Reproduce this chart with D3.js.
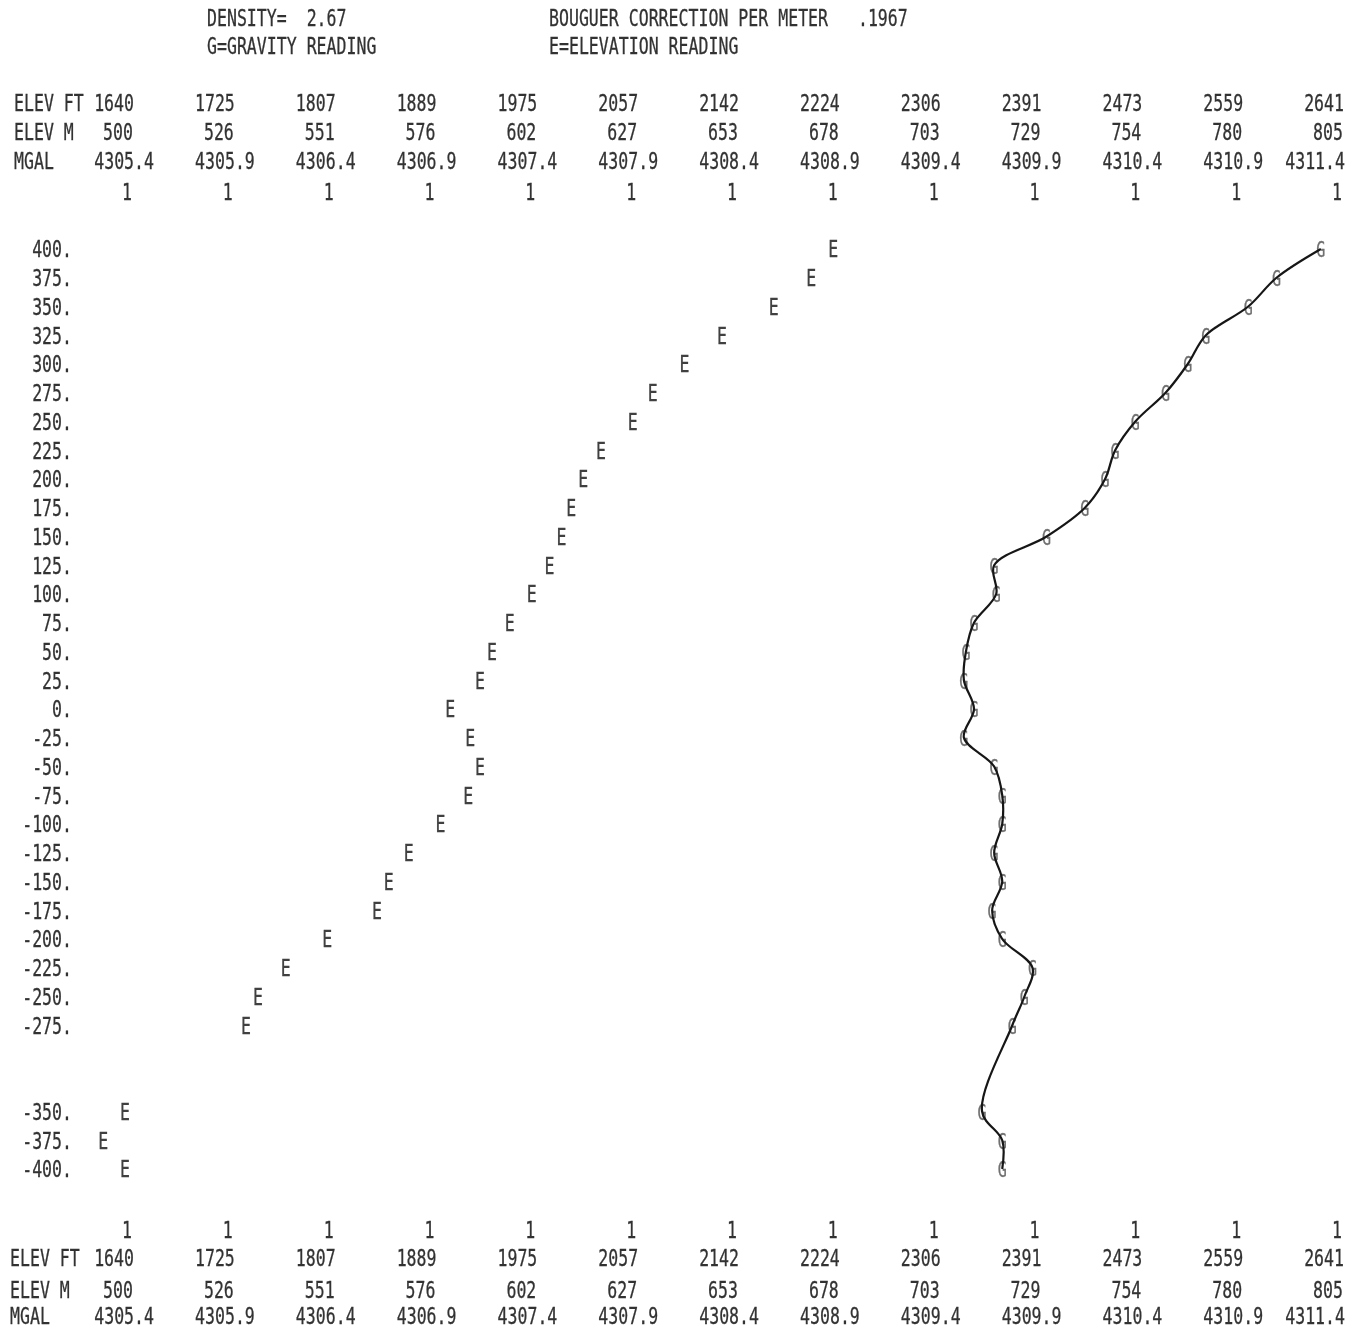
<!DOCTYPE html>
<html>
<head>
<meta charset="utf-8">
<script src="https://cdn.jsdelivr.net/npm/d3@7"></script>
<style>
  html, body { margin: 0; padding: 0; background: #fff; }
  svg { display: block; }
  svg text { white-space: pre; }
</style>
</head>
<body>
<svg id="chart" width="1364" height="1332"></svg>
<script>
// ---------------- DATA ----------------
const elevFt = [1640, 1725, 1807, 1889, 1975, 2057, 2142, 2224, 2306, 2391, 2473, 2559, 2641];
const elevM  = [500, 526, 551, 576, 602, 627, 653, 678, 703, 729, 754, 780, 805];
const mgal   = [4305.4, 4305.9, 4306.4, 4306.9, 4307.4, 4307.9, 4308.4, 4308.9, 4309.4, 4309.9, 4310.4, 4310.9, 4311.4];

// station distance rows (printed labels)
const rowLabels = [400, 375, 350, 325, 300, 275, 250, 225, 200, 175, 150, 125, 100, 75, 50, 25, 0,
  -25, -50, -75, -100, -125, -150, -175, -200, -225, -250, -275, -350, -375, -400];

// E = elevation reading (metres) at each station
const distE = rowLabels.slice();
const elevE = [678, 672.5, 663, 650, 640.5, 632.5, 627.5, 619.5, 615, 612, 609.5, 606.5, 602, 596.5, 592, 589,
  581.5, 586.5, 589, 586, 579, 571, 566, 563, 550.5, 540, 533, 530, 499.5, 494, 499.5];

// G = gravity reading (mgal) at each station
const distG = rowLabels.slice();
const gravG = [4311.32, 4311.10, 4310.96, 4310.75, 4310.66, 4310.55, 4310.40, 4310.30, 4310.25, 4310.15,
  4309.96, 4309.70, 4309.71, 4309.60, 4309.56, 4309.55, 4309.60, 4309.55, 4309.70, 4309.74, 4309.74,
  4309.70, 4309.74, 4309.69, 4309.74, 4309.89, 4309.85, 4309.79, 4309.64, 4309.74, 4309.74];

const headerLines = [
  { text: "DENSITY=  2.67", col: 0, row: 0 },
  { text: "G=GRAVITY READING", col: 0, row: 1 },
  { text: "BOUGUER CORRECTION PER METER   .1967", col: 1, row: 0 },
  { text: "E=ELEVATION READING", col: 1, row: 1 }
];
const axisNames = ["ELEV FT", "ELEV M", "MGAL"];

// ---------------- SCALES ----------------
const svg = d3.select("#chart");
const x = d3.scaleLinear().domain([4305.4, 4311.4]).range([127, 1337]);   // mgal
const xe = d3.scaleLinear().domain([500, 805]).range([127, 1337]);        // metres
const y = d3.scaleLinear().domain([400, -400]).range([249, 1169]);

const FS = 23;          // font size
const SX = 0.72;        // horizontal squeeze -> ~10px per character
const CAP = 8.3;        // half cap height, baseline offset
const ink = "#333333";

const defs = svg.append("defs");
defs.append("filter").attr("id", "soft")
  .append("feGaussianBlur").attr("stdDeviation", 0.45);

const g = svg.append("g").attr("filter", "url(#soft)");

function put(parent, text, px, py, anchor, opts = {}) {
  return parent.append("text")
    .attr("transform", `translate(${px},${py + CAP}) scale(${SX},1)`)
    .attr("text-anchor", anchor || "start")
    .attr("xml:space", "preserve")
    .attr("font-family", "'DejaVu Sans Mono', 'Liberation Mono', monospace")
    .attr("font-size", opts.size || FS)
    .attr("fill", opts.fill || ink)
    .attr("stroke", opts.fill || ink)
    .attr("stroke-width", 0.3)
    .text(text);
}

// ---------------- HEADER ----------------
const headerX = [207, 549];
const headerY = [18, 46];
headerLines.forEach(h => put(g, h.text, headerX[h.col], headerY[h.row], "start"));

// ---------------- COLUMN SCALES (top & bottom) ----------------
function scaleBlock(rowsY, tickY, nameX) {
  axisNames.forEach((n, i) => put(g, n, nameX, rowsY[i], "start"));
  mgal.forEach((m, i) => {
    const cx = x(m);
    put(g, String(elevFt[i]), cx + 7, rowsY[0], "end");
    put(g, String(elevM[i]), cx + 6, rowsY[1], "end");
    put(g, m.toFixed(1), Math.min(cx + 27, 1345), rowsY[2], "end");
    put(g, "1", cx, tickY, "middle");
  });
}
scaleBlock([103, 132, 161], 192, 14);
scaleBlock([1258, 1290, 1316], 1230, 10);

// ---------------- ROW LABELS ----------------
rowLabels.forEach(d => put(g, d + ".", 72, y(d), "end"));

// ---------------- E MARKS ----------------
distE.forEach((d, i) => put(g, "E", xe(elevE[i]), y(d), "middle", { fill: "#404040" }));

// ---------------- G MARKS + LINE ----------------
distG.forEach((d, i) => put(g, "G", x(gravG[i]), y(d), "middle", { fill: "#707070", size: 21 }));

const pts = distG.map((d, i) => [x(gravG[i]), y(d)]);
const line = d3.line().curve(d3.curveCatmullRom.alpha(0.5));
svg.append("path")
  .attr("d", line(pts))
  .attr("fill", "none")
  .attr("stroke", "#151515")
  .attr("stroke-width", 2.2)
  .attr("stroke-linejoin", "round")
  .attr("filter", "url(#soft)");
</script>
</body>
</html>
